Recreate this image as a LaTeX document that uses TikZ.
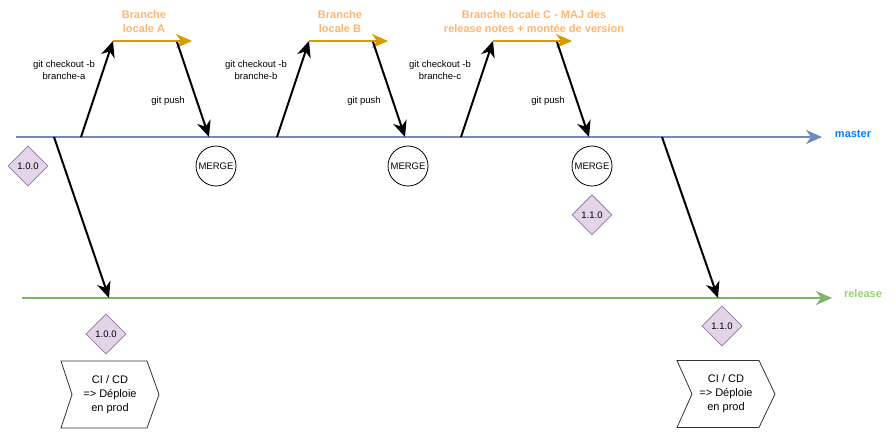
\documentclass[tikz,border=0pt]{standalone}
\usepackage{fontspec}
\setmainfont{Liberation Sans}
\usepackage{tikz}
\usetikzlibrary{shapes.geometric}
\usetikzlibrary{positioning}
\usetikzlibrary{arrows.meta}

\definecolor{masterline}{HTML}{6C8EBF}
\definecolor{mastertext}{HTML}{007FFF}
\definecolor{releaseline}{HTML}{82B366}
\definecolor{releasetext}{HTML}{97D077}
\definecolor{branchline}{HTML}{D79B00}
\definecolor{branchtext}{HTML}{FFB570}
\definecolor{versionfill}{HTML}{E1D5E7}
\definecolor{versiondraw}{HTML}{9673A6}

\begin{document}
\begin{tikzpicture}[x=1pt,y=-1pt,line width=2pt,
	>={Stealth[length=16pt,width=14pt,inset=5pt]},
	merge node/.style={circle,draw,line width=0.8pt,minimum size=40pt,inner sep=0pt,
		font=\fontsize{9.5}{10}\selectfont},
	version node/.style={diamond,draw=versiondraw,fill=versionfill,line width=0.8pt,
		minimum size=40pt,inner sep=0pt,font=\fontsize{9.5}{10}\selectfont},
	git label/.style={align=center,font=\fontsize{9.5}{12}\selectfont},
	branch label/.style={align=center,text=branchtext,font=\bfseries\fontsize{11}{14}\selectfont},
	cicd node/.style={minimum width=96pt,minimum height=65pt,inner sep=0pt,align=center,
		font=\fontsize{11}{14}\selectfont},
	chevron/.style={draw=black!80,line width=0.8pt},
	branch arrow/.style={draw=branchline,-{Stealth[length=16pt,width=14pt,inset=5pt]}}]

	\useasboundingbox (0,0) rectangle (896,436);

	% master et release
	\coordinate (m0) at (16,137);
	\coordinate (m1) at (822,137);
	\coordinate (r0) at (22,298);
	\coordinate (r1) at (832,298);
	\draw[masterline,-{Stealth[length=16pt,width=14pt,inset=5pt]}] (m0) -- (m1);
	\draw[releaseline,-{Stealth[length=16pt,width=14pt,inset=5pt]}] (r0) -- (r1);
	\node[text=mastertext,font=\bfseries\fontsize{11}{13}\selectfont] (master) at (853,134) {master};
	\node[text=releasetext,font=\bfseries\fontsize{11}{13}\selectfont] (release) at (863,294) {release};

	% branche A
	\coordinate (a0) at (81,137);
	\coordinate (a1) at (113,41);
	\coordinate (a2) at (192,41);
	\coordinate (a3) at (177,42);
	\coordinate (a4) at (209,137);
	\draw[->] (a0) -- (a1);
	\draw[branch arrow] (a1) -- (a2);
	\draw[->] (a3) -- (a4);
	\node[branch label] (brA) at (144,22) {Branche\\locale A};
	\node[git label] (coA) at (64,70) {git checkout -b\\branche-a};
	\node[git label] (puA) at (168,101) {git push};
	\node[merge node] (mgA) at (216,166) {MERGE};

	% branche B
	\coordinate (b0) at (277,137);
	\coordinate (b1) at (309,41);
	\coordinate (b2) at (388,41);
	\coordinate (b3) at (373,42);
	\coordinate (b4) at (405,137);
	\draw[->] (b0) -- (b1);
	\draw[branch arrow] (b1) -- (b2);
	\draw[->] (b3) -- (b4);
	\node[branch label] (brB) at (340,22) {Branche\\locale B};
	\node[git label] (coB) at (256,70) {git checkout -b\\branche-b};
	\node[git label] (puB) at (364,101) {git push};
	\node[merge node] (mgB) at (408,166) {MERGE};

	% branche C
	\coordinate (c0) at (461,137);
	\coordinate (c1) at (493,41);
	\coordinate (c2) at (572,41);
	\coordinate (c3) at (557,42);
	\coordinate (c4) at (589,137);
	\draw[->] (c0) -- (c1);
	\draw[branch arrow] (c1) -- (c2);
	\draw[->] (c3) -- (c4);
	\node[branch label] (brC) at (534,22) {Branche locale C - MAJ des\\release notes + montée de version};
	\node[git label] (coC) at (440,70) {git checkout -b\\branche-c};
	\node[git label] (puC) at (548,101) {git push};
	\node[merge node] (mgC) at (592,166) {MERGE};
	\node[version node] (v110m) [below=8pt of mgC] {1.1.0};

	% versions et livraisons
	\node[version node] (v100m) at (28,166) {1.0.0};
	\coordinate (s1) at (54,137);
	\coordinate (e1) at (109,298);
	\coordinate (s2) at (662,137);
	\coordinate (e2) at (718,298);
	\draw[->] (s1) -- (e1);
	\draw[->] (s2) -- (e2);
	\node[version node] (v100r) at (106,334) {1.0.0};
	\node[version node] (v110r) at (722,326) {1.1.0};

	\node[cicd node] (cicdA) at (110,394.5) {CI / CD\\=> Déploie\\en prod};
	\node[cicd node] (cicdB) at (726,394) {CI / CD\\=> Déploie\\en prod};
	\draw[chevron] (cicdA.north west) -- ([xshift=-12pt]cicdA.north east) -- (cicdA.east)
		-- ([xshift=-12pt]cicdA.south east) -- (cicdA.south west) -- ([xshift=11pt]cicdA.west) -- cycle;
	\draw[chevron] (cicdB.north west) -- ([xshift=-16pt]cicdB.north east) -- (cicdB.east)
		-- ([xshift=-16pt]cicdB.south east) -- (cicdB.south west) -- ([xshift=15pt]cicdB.west) -- cycle;
\end{tikzpicture}
\end{document}
